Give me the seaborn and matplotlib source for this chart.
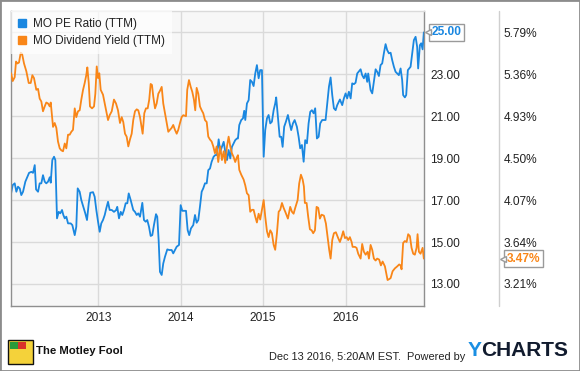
import matplotlib
matplotlib.use("Agg")
import matplotlib.pyplot as plt
import matplotlib.transforms as mtransforms
from matplotlib.lines import Line2D
from matplotlib.patches import Rectangle
import seaborn as sns

# ---------------- data ----------------
pe_years = [
    2011.943, 2011.963, 2011.987, 2012.007, 2012.027, 2012.048, 2012.067, 2012.088, 2012.116, 2012.140,
    2012.161, 2012.189, 2012.209, 2012.230, 2012.246, 2012.270, 2012.290, 2012.310, 2012.330, 2012.351,
    2012.370, 2012.391, 2012.412, 2012.424, 2012.443, 2012.464, 2012.480, 2012.500, 2012.521, 2012.540,
    2012.561, 2012.577, 2012.594, 2012.613, 2012.634, 2012.666, 2012.686, 2012.715, 2012.734, 2012.751,
    2012.775, 2012.795, 2012.819, 2012.843, 2012.864, 2012.885, 2012.904, 2012.937, 2012.957, 2012.977,
    2012.998, 2013.018, 2013.037, 2013.058, 2013.079, 2013.098, 2013.119, 2013.139, 2013.164, 2013.191,
    2013.216, 2013.231, 2013.252, 2013.273, 2013.292, 2013.313, 2013.333, 2013.353, 2013.370, 2013.394,
    2013.425, 2013.446, 2013.467, 2013.486, 2013.507, 2013.535, 2013.555, 2013.576, 2013.595, 2013.616,
    2013.636, 2013.656, 2013.676, 2013.701, 2013.716, 2013.733, 2013.749, 2013.770, 2013.789, 2013.810,
    2013.838, 2013.862, 2013.891, 2013.910, 2013.931, 2013.952, 2013.980, 2014.000, 2014.020, 2014.040,
    2014.065, 2014.085, 2014.104, 2014.125, 2014.153, 2014.174, 2014.194, 2014.214, 2014.234, 2014.255,
    2014.274, 2014.295, 2014.316, 2014.335, 2014.356, 2014.376, 2014.400, 2014.420, 2014.440, 2014.461,
    2014.480, 2014.501, 2014.522, 2014.541, 2014.562, 2014.582, 2014.602, 2014.622, 2014.643, 2014.662,
    2014.683, 2014.695, 2014.711, 2014.735, 2014.756, 2014.771, 2014.784, 2014.804, 2014.825, 2014.844,
    2014.865, 2014.885, 2014.905, 2014.925, 2014.946, 2014.965, 2014.986, 2015.007, 2015.026, 2015.047,
    2015.067, 2015.087, 2015.107, 2015.128, 2015.147, 2015.159, 2015.180, 2015.201, 2015.220, 2015.237,
    2015.256, 2015.277, 2015.301, 2015.322, 2015.341, 2015.362, 2015.383, 2015.410, 2015.431, 2015.450,
    2015.471, 2015.492, 2015.511, 2015.532, 2015.552, 2015.572, 2015.592, 2015.613, 2015.632, 2015.653,
    2015.674, 2015.693, 2015.717, 2015.758, 2015.778, 2015.799, 2015.819, 2015.839, 2015.859, 2015.880,
    2015.899, 2015.932, 2015.960, 2015.980, 2016.001, 2016.020, 2016.041, 2016.062, 2016.081, 2016.102,
    2016.122, 2016.142, 2016.183, 2016.202, 2016.223, 2016.244, 2016.263, 2016.275, 2016.304, 2016.324,
    2016.344, 2016.365, 2016.384, 2016.405, 2016.425, 2016.445, 2016.465, 2016.486, 2016.505, 2016.526,
    2016.547, 2016.566, 2016.587, 2016.607, 2016.627, 2016.647, 2016.668, 2016.687, 2016.699, 2016.720,
    2016.736, 2016.756, 2016.789, 2016.809, 2016.829, 2016.850, 2016.869, 2016.881, 2016.902, 2016.918,
    2016.935, 2016.950,
]
pe_values = [
    17.32, 17.72, 17.80, 17.40, 17.64, 17.56, 17.24, 17.40, 17.88, 18.11,
    18.30, 18.35, 18.30, 18.67, 17.51, 17.40, 17.80, 17.80, 18.19, 17.88,
    17.80, 17.88, 18.09, 17.83, 18.91, 19.07, 18.91, 16.13, 16.44, 16.37,
    16.53, 16.29, 16.13, 16.21, 15.89, 15.89, 15.81, 15.33, 15.73, 17.56,
    17.40, 17.00, 16.68, 16.37, 16.05, 16.85, 17.35, 17.38, 17.16, 16.53,
    15.97, 15.49, 15.89, 16.05, 16.29, 16.61, 16.92, 16.53, 16.53, 16.44,
    16.52, 16.68, 16.13, 16.44, 16.29, 16.53, 16.85, 16.85, 17.32, 17.00,
    16.53, 16.44, 16.29, 16.37, 16.21, 16.87, 16.05, 15.97, 16.05, 15.73,
    15.29, 15.33, 15.81, 16.33, 16.21, 15.09, 13.58, 13.43, 13.98, 14.30,
    14.65, 14.62, 14.62, 14.46, 14.62, 14.78, 14.86, 16.76, 16.49, 16.49,
    16.49, 15.57, 15.33, 15.65, 15.81, 16.29, 15.92, 16.05, 16.68, 17.40,
    17.56, 17.80, 17.80, 18.43, 18.51, 18.83, 19.07, 19.15, 19.15, 19.90,
    19.31, 19.54, 19.78, 19.31, 18.91, 19.39, 18.99, 19.54, 19.71, 19.86,
    19.94, 19.94, 20.58, 20.82, 20.90, 21.26, 20.82, 21.61, 21.77, 22.73,
    22.64, 22.44, 23.04, 23.44, 22.81, 23.20, 23.20, 19.07, 20.34, 20.90,
    21.06, 20.66, 20.74, 21.29, 21.61, 21.90, 20.97, 20.02, 20.02, 19.54,
    20.50, 20.74, 21.06, 20.66, 20.34, 20.66, 20.82, 20.50, 20.02, 19.47,
    19.63, 18.83, 19.86, 19.71, 20.66, 21.21, 21.29, 21.14, 21.38, 19.94,
    20.02, 20.66, 20.82, 20.82, 21.61, 22.41, 22.85, 22.01, 21.38, 21.29,
    21.53, 21.80, 21.53, 21.85, 22.09, 21.85, 22.17, 21.85, 22.57, 22.53,
    22.60, 23.04, 23.24, 22.96, 22.81, 23.04, 22.64, 23.04, 22.25, 22.09,
    22.64, 23.24, 23.12, 22.92, 23.44, 23.52, 24.00, 24.44, 24.16, 24.00,
    24.03, 23.68, 23.36, 23.12, 23.04, 22.96, 23.28, 22.73, 22.01, 21.90,
    22.01, 23.20, 23.36, 24.00, 24.63, 24.79, 24.31, 23.28, 24.39, 24.48,
    24.19, 25.00,
]
dy_years = [
    2011.943, 2011.963, 2011.987, 2012.003, 2012.019, 2012.039, 2012.060, 2012.076, 2012.100, 2012.128,
    2012.157, 2012.181, 2012.201, 2012.221, 2012.249, 2012.270, 2012.290, 2012.310, 2012.330, 2012.351,
    2012.370, 2012.391, 2012.412, 2012.424, 2012.440, 2012.452, 2012.472, 2012.492, 2012.512, 2012.533,
    2012.552, 2012.573, 2012.594, 2012.613, 2012.634, 2012.654, 2012.674, 2012.694, 2012.715, 2012.734,
    2012.755, 2012.775, 2012.795, 2012.816, 2012.836, 2012.855, 2012.868, 2012.885, 2012.900, 2012.925,
    2012.949, 2012.965, 2012.982, 2012.998, 2013.013, 2013.030, 2013.058, 2013.086, 2013.119, 2013.139,
    2013.164, 2013.191, 2013.216, 2013.240, 2013.264, 2013.285, 2013.304, 2013.325, 2013.345, 2013.365,
    2013.385, 2013.406, 2013.425, 2013.446, 2013.467, 2013.486, 2013.507, 2013.527, 2013.539, 2013.559,
    2013.579, 2013.600, 2013.619, 2013.636, 2013.652, 2013.668, 2013.689, 2013.709, 2013.729, 2013.749,
    2013.770, 2013.789, 2013.810, 2013.830, 2013.850, 2013.870, 2013.891, 2013.910, 2013.931, 2013.952,
    2013.971, 2013.992, 2014.012, 2014.032, 2014.065, 2014.080, 2014.101, 2014.122, 2014.141, 2014.161,
    2014.177, 2014.194, 2014.214, 2014.234, 2014.255, 2014.274, 2014.295, 2014.316, 2014.335, 2014.356,
    2014.376, 2014.396, 2014.416, 2014.437, 2014.456, 2014.480, 2014.501, 2014.522, 2014.541, 2014.562,
    2014.582, 2014.602, 2014.622, 2014.643, 2014.662, 2014.683, 2014.695, 2014.711, 2014.735, 2014.764,
    2014.784, 2014.804, 2014.825, 2014.844, 2014.865, 2014.885, 2014.905, 2014.925, 2014.946, 2014.965,
    2014.986, 2015.007, 2015.026, 2015.047, 2015.067, 2015.087, 2015.107, 2015.128, 2015.147, 2015.168,
    2015.189, 2015.208, 2015.229, 2015.249, 2015.269, 2015.301, 2015.329, 2015.350, 2015.370, 2015.390,
    2015.419, 2015.438, 2015.459, 2015.480, 2015.495, 2015.507, 2015.528, 2015.547, 2015.568, 2015.589,
    2015.608, 2015.629, 2015.649, 2015.669, 2015.689, 2015.710, 2015.738, 2015.762, 2015.783, 2015.802,
    2015.819, 2015.839, 2015.859, 2015.883, 2015.911, 2015.932, 2015.952, 2015.972, 2015.993, 2016.013,
    2016.033, 2016.053, 2016.074, 2016.086, 2016.114, 2016.134, 2016.154, 2016.183, 2016.202, 2016.223,
    2016.244, 2016.268, 2016.284, 2016.304, 2016.324, 2016.344, 2016.365, 2016.384, 2016.408, 2016.429,
    2016.450, 2016.478, 2016.498, 2016.510, 2016.530, 2016.547, 2016.571, 2016.599, 2016.627, 2016.651,
    2016.668, 2016.680, 2016.699, 2016.720, 2016.741, 2016.760, 2016.781, 2016.801, 2016.821, 2016.841,
    2016.862, 2016.874, 2016.890, 2016.910, 2016.935, 2016.950,
]
dy_values = [
    5.37, 5.29, 5.33, 5.49, 5.47, 5.48, 5.58, 5.57, 5.47, 5.39,
    5.27, 5.27, 5.35, 5.32, 5.20, 5.21, 5.11, 5.08, 4.98, 5.03,
    5.07, 5.06, 5.03, 5.07, 4.92, 4.82, 4.86, 4.81, 4.67, 4.60,
    4.58, 4.57, 4.65, 4.60, 4.74, 4.74, 4.77, 4.79, 5.01, 4.92,
    4.98, 4.99, 5.10, 5.20, 5.27, 5.35, 5.43, 5.27, 5.03, 5.01,
    5.03, 5.16, 5.44, 5.32, 5.37, 5.20, 5.15, 5.03, 4.89, 4.94,
    4.98, 5.10, 5.06, 4.99, 4.86, 4.92, 4.87, 4.75, 4.72, 4.62,
    4.69, 4.75, 4.89, 4.98, 5.00, 4.99, 4.92, 4.81, 4.75, 4.96,
    5.01, 5.01, 5.10, 5.26, 5.25, 5.13, 5.01, 5.06, 5.16, 5.19,
    5.23, 5.06, 4.96, 4.86, 4.77, 4.79, 4.81, 4.84, 4.79, 4.75,
    4.79, 4.86, 4.92, 4.94, 4.93, 5.20, 5.30, 5.23, 5.18, 5.10,
    4.99, 5.22, 5.16, 5.03, 4.99, 4.96, 4.89, 4.87, 4.72, 4.69,
    4.67, 4.62, 4.55, 4.62, 4.46, 4.62, 4.48, 4.57, 4.45, 4.62,
    4.72, 4.62, 4.55, 4.51, 4.46, 4.51, 4.53, 4.38, 4.33, 4.28,
    4.22, 4.14, 4.12, 3.95, 3.97, 3.97, 3.90, 3.84, 3.93, 3.87,
    3.97, 4.07, 3.90, 3.75, 3.69, 3.76, 3.73, 3.61, 3.56, 3.73,
    3.95, 3.97, 4.04, 3.99, 3.95, 3.88, 4.00, 3.95, 3.93, 3.99,
    4.07, 4.24, 4.33, 4.28, 4.21, 4.04, 4.04, 3.90, 3.77, 3.76,
    3.73, 3.76, 4.00, 3.99, 3.88, 3.92, 3.91, 3.83, 3.69, 3.56,
    3.47, 3.66, 3.73, 3.74, 3.68, 3.64, 3.69, 3.75, 3.68, 3.69,
    3.66, 3.69, 3.64, 3.59, 3.59, 3.58, 3.52, 3.47, 3.62, 3.54,
    3.51, 3.54, 3.47, 3.61, 3.56, 3.47, 3.45, 3.47, 3.46, 3.40,
    3.44, 3.39, 3.30, 3.25, 3.26, 3.27, 3.34, 3.37, 3.39, 3.41,
    3.40, 3.36, 3.63, 3.65, 3.64, 3.72, 3.70, 3.58, 3.52, 3.51,
    3.58, 3.72, 3.54, 3.52, 3.58, 3.47,
]
year_ticks = [2013, 2014, 2015, 2016]
pe_ticks = [13, 15, 17, 19, 21, 23, 25]
dy_ticks = [3.21, 3.64, 4.07, 4.50, 4.93, 5.36, 5.79]
series_names = ["MO PE Ratio (TTM)", "MO Dividend Yield (TTM)"]
footer_date = "Dec 13 2016, 5:20AM EST."

# ---------------- style ----------------
BLUE = "#1a87e0"
ORANGE = "#f98618"
GRID = "#dadada"
SPINE = "#8f8f8f"
TXT = "#222222"

sns.set_theme(style="white")
plt.rcParams["font.family"] = ["Liberation Sans", "DejaVu Sans"]

W, H = 580, 371
fig = plt.figure(figsize=(W / 100, H / 100), dpi=100)
fig.patch.set_facecolor("white")

L, R, T, B = 11, 424, 11, 306
ax = fig.add_axes([L / W, 1 - B / H, (R - L) / W, (B - T) / H])
ax.set_facecolor("#f7f7f7")

sns.lineplot(x=pe_years, y=pe_values, ax=ax, color=BLUE, linewidth=1.3,
             estimator=None, sort=False, legend=False)
ax2 = ax.twinx()
sns.lineplot(x=dy_years, y=dy_values, ax=ax2, color=ORANGE, linewidth=1.3,
             estimator=None, sort=False, legend=False)

ax.set_xlim(2011.942, 2016.952)
ax.set_ylim(11.95, 26.02)
ax.set_xticks(year_ticks)
ax.set_xticklabels([str(y) for y in year_ticks])
ax.set_yticks(pe_ticks)
ax.set_yticklabels([f"{v:.2f}" for v in pe_ticks])
ax.yaxis.tick_right()
ax.yaxis.set_label_position("right")
ax.tick_params(axis="y", length=0, pad=4.3, labelsize=8.6, labelcolor=TXT,
               left=False, labelleft=False, right=False, labelright=True)
ax.tick_params(axis="x", length=0, pad=4.5, labelsize=8.6, labelcolor=TXT)
ax.grid(True, color=GRID, linewidth=1.0)
ax.set_axisbelow(True)
ax.set_xlabel("")
ax.set_ylabel("")
for side in ["left", "bottom", "right"]:
    ax.spines[side].set_color(SPINE)
    ax.spines[side].set_linewidth(1.0)
ax.spines["top"].set_color(GRID)
ax.spines["top"].set_linewidth(1.0)

ax2.set_ylim(2.984, 6.008)
ax2.set_yticks(dy_ticks)
ax2.set_yticklabels([f"{v:.2f}%" for v in dy_ticks])
ax2.tick_params(axis="y", length=0, pad=57.6, labelsize=8.6, labelcolor=TXT)
ax2.set_ylabel("")
for s in ax2.spines.values():
    s.set_visible(False)
ax2.set_xlim(ax.get_xlim())

# separator between the two value columns
fig.add_artist(Line2D([499 / W, 499 / W], [1 - B / H, 1 - T / H],
                      color="#cfcfcf", linewidth=1.0))

# current-value flags
tr1 = mtransforms.blended_transform_factory(ax.transAxes, ax.transData)
ax.text(1.0175, pe_values[-1], f"{pe_values[-1]:.2f}", transform=tr1,
        color=BLUE, fontsize=8.6, fontweight="bold", va="center", ha="left",
        bbox=dict(boxstyle="square,pad=0.2", fc="white", ec="#9a9a9a", lw=1.0),
        clip_on=False, zorder=10)
ax.plot([1.0085], [pe_values[-1]], transform=tr1, marker="<", ms=4.5,
        mfc="white", mec="#9a9a9a", mew=1.0, clip_on=False, zorder=11)
tr2 = mtransforms.blended_transform_factory(ax2.transAxes, ax2.transData)
ax2.text(1.2005, dy_values[-1], f"{dy_values[-1]:.2f}%", transform=tr2,
         color=ORANGE, fontsize=8.6, fontweight="bold", va="center", ha="left",
         bbox=dict(boxstyle="square,pad=0.2", fc="white", ec="#9a9a9a", lw=1.0),
         clip_on=False, zorder=10)
ax2.plot([1.191], [dy_values[-1]], transform=tr2, marker="<", ms=4.5,
         mfc="white", mec="#9a9a9a", mew=1.0, clip_on=False, zorder=11)

# legend
handles = [Line2D([], [], linestyle="none", marker="s", markersize=5.8,
                  markerfacecolor=c, markeredgecolor=c) for c in (BLUE, ORANGE)]
leg = ax2.legend(handles, series_names, loc="upper left", bbox_to_anchor=(0, 1),
                 borderaxespad=0, frameon=True, fancybox=False, framealpha=0.7,
                 facecolor="white", edgecolor="none", fontsize=8.5,
                 handlelength=0.7, handletextpad=0.55, borderpad=0.6,
                 labelspacing=0.45)
for t in leg.get_texts():
    t.set_color(TXT)

# footer
fig.add_artist(Rectangle((8 / W, 1 - 364 / H), 25 / W, 24 / H, fc="#f4d23a",
                         ec="#111111", lw=1.0))
fig.add_artist(Rectangle((10 / W, 1 - 349 / H), 8 / W, 7 / H, fc="#2a9a3a",
                         ec="none"))
fig.add_artist(Rectangle((18 / W, 1 - 349 / H), 8 / W, 7 / H, fc="#d8322a",
                         ec="none"))
fig.text(36 / W, 1 - 351 / H, "The Motley Fool", fontsize=8.2, fontweight="bold",
         color="#111111", va="center", ha="left")
fig.text(465 / W, 1 - 357.5 / H, f"{footer_date}  Powered by", fontsize=7.9,
         color=TXT, va="center", ha="right")
fig.text(468 / W, 1 - 351 / H, "Y", fontsize=15, fontweight="bold",
         color="#1a8fe3", va="center", ha="left")
fig.text(481 / W, 1 - 351 / H, "CHARTS", fontsize=15, fontweight="bold",
         color="#111b2e", va="center", ha="left")

# outer frame
fig.add_artist(Rectangle((0, 0), 1, 1, fill=False, ec="#8c8c8c", lw=2.0,
                         transform=fig.transFigure))

fig.savefig("out.png", dpi=100, facecolor="white")
